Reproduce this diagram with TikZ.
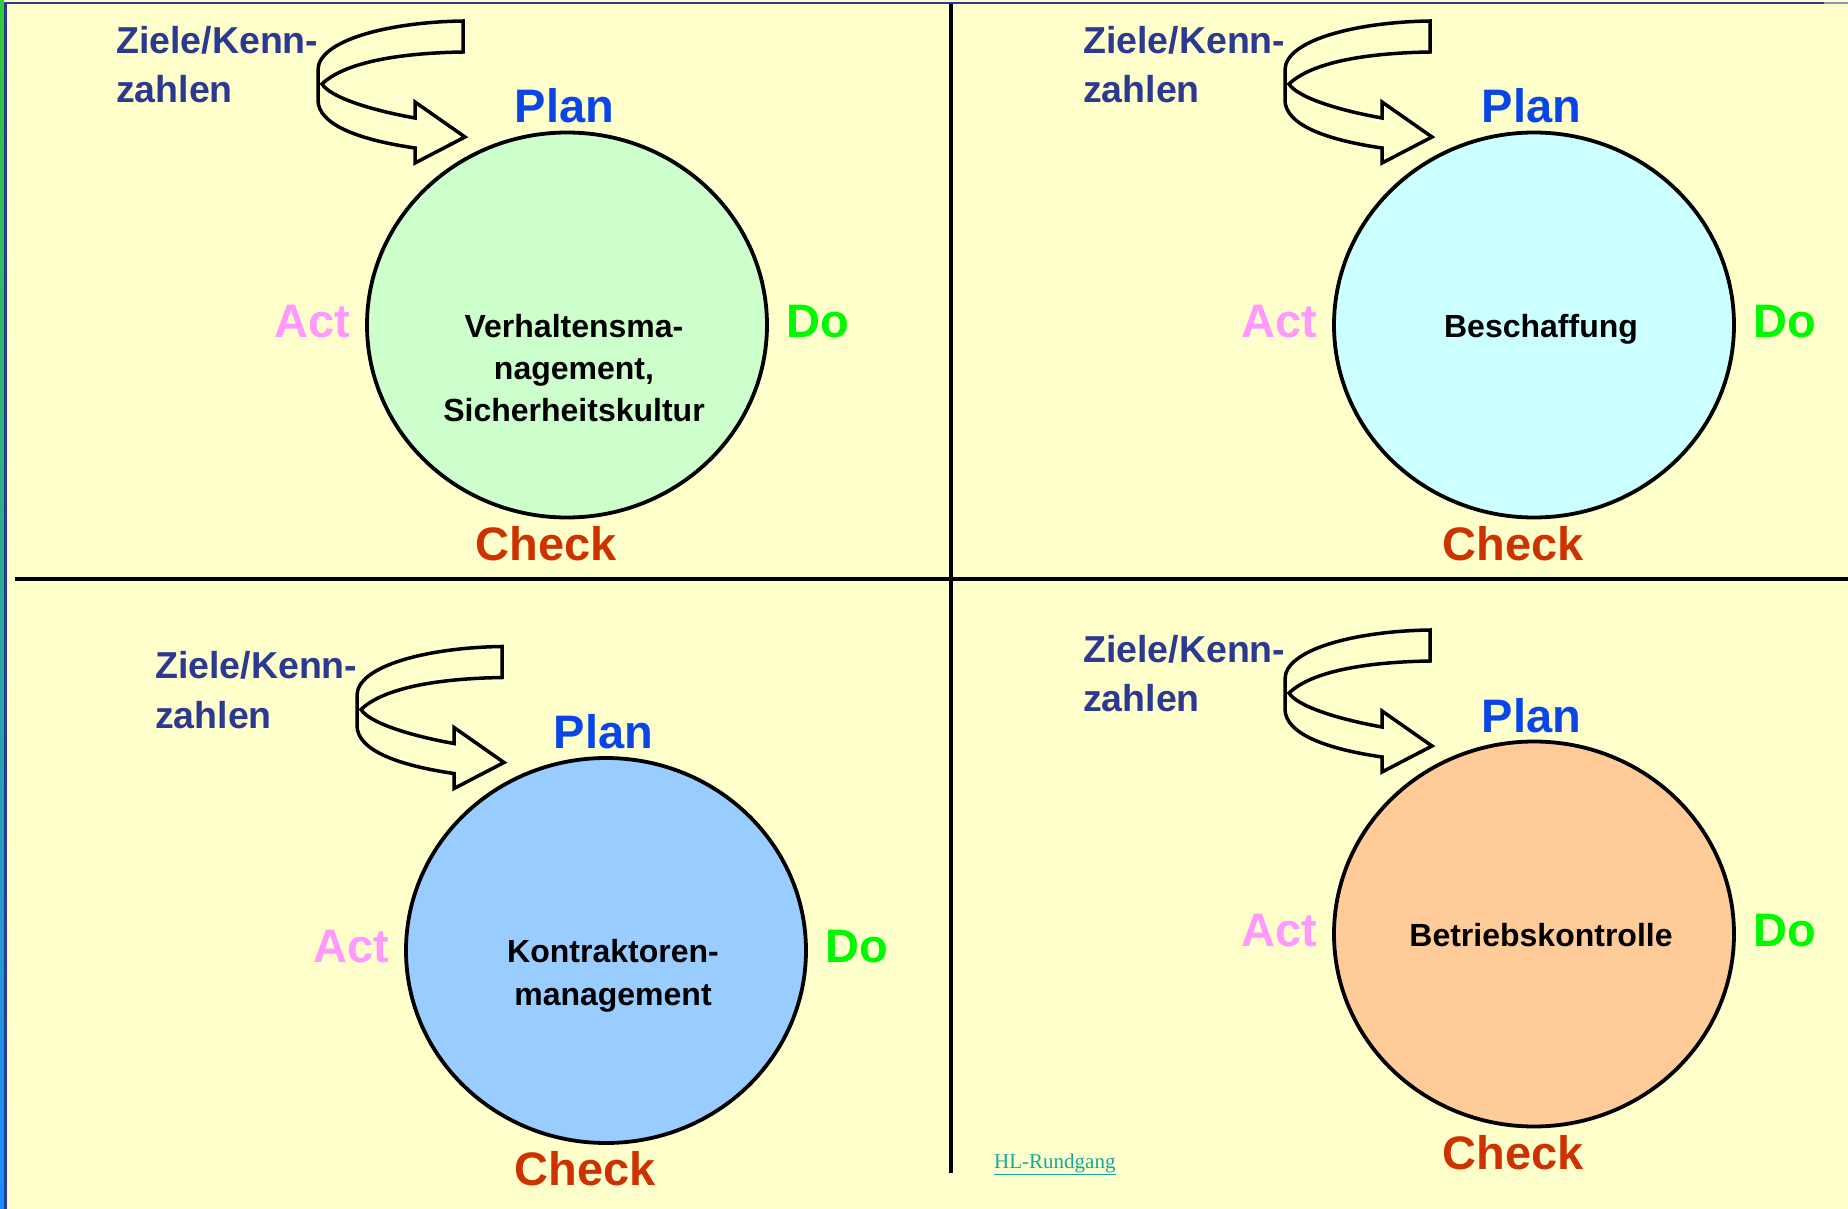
\documentclass[tikz,border=0pt]{standalone}
\usepackage{fontspec}
\setmainfont{Liberation Sans}
\newfontfamily\linkfont{Liberation Serif}
\usetikzlibrary{shapes.geometric}

\definecolor{bg}{HTML}{FFFFCC}
\definecolor{frameblue}{HTML}{2B3A8F}
\definecolor{goalblue}{HTML}{2B3A8F}
\definecolor{planblue}{HTML}{0A46E6}
\definecolor{actpink}{HTML}{FF99FF}
\definecolor{dogreen}{HTML}{00F800}
\definecolor{checkred}{HTML}{CC3300}
\definecolor{linkteal}{HTML}{14A89C}
\definecolor{fillgreen}{HTML}{CCFFCC}
\definecolor{fillcyan}{HTML}{CCFFFF}
\definecolor{fillblue}{HTML}{99CCFF}
\definecolor{fillorange}{HTML}{FFCC99}

\tikzset{
  cyclecircle/.style={ellipse, draw=black, line width=3.8pt, minimum width=400pt,
    minimum height=385pt, inner sep=0pt},
  phase/.style={font=\fontsize{47}{47}\selectfont\bfseries, anchor=base, inner sep=0pt},
  goal/.style={font=\fontsize{37.5}{49.4}\selectfont\bfseries, text=goalblue,
    align=left, text width=260pt, anchor=base west, inner sep=0pt},
  topic/.style={font=\fontsize{32}{42.5}\selectfont\bfseries, align=center,
    text width=380pt, anchor=base, inner sep=0pt},
  ribbon/.style={fill=bg, draw=black, line width=3.5pt, line join=miter},
  divider/.style={line width=4pt, draw=black}
}

% one PDCA panel: #1 name, #2/#3 centre, #4 fill colour, #5 topic text
\newcommand\pdcapanel[5]{%
  \begin{scope}[shift={(#2,#3)}]
    \node[cyclecircle, fill=#4] (#1) at (0,0) {};
    \node[topic] (#1-topic) at (7,12) {#5};
    \node[phase, text=planblue] (#1-plan) at (-2.5,-202) {Plan};
    \node[phase, text=actpink] (#1-act) at (-254.7,12) {Act};
    \node[phase, text=dogreen] (#1-do) at (251,12) {Do};
    \node[phase, text=checkred] (#1-check) at (-20.7,235) {Check};
    \node[goal] (#1-goal) at (-451,-271.7) {Ziele/Kenn-\\zahlen};
    % curled ribbon arrow from the goals towards Plan
    \filldraw[ribbon] (-104,-304)
      .. controls (-177,-303) and (-249,-285) .. (-249,-255)
      -- (-249,-225)
      .. controls (-249,-200) and (-207,-185) .. (-152,-177)
      -- (-152,-162) -- (-102,-188) -- (-152,-223) -- (-152,-207)
      .. controls (-197,-215) and (-237,-228) .. (-245,-241)
      .. controls (-222,-263) and (-167,-272) .. (-104,-273)
      -- cycle;
  \end{scope}}

\begin{document}
\begin{tikzpicture}[x=1pt, y=-1pt]
  \useasboundingbox (0,0) rectangle (1848,1209);
  \fill[bg] (0,0) rectangle (1848,1209);

  % slide frame
  \shade[top color=green!75!black!80, bottom color=blue!50!cyan!90] (0,0) rectangle (4,1209);
  \fill[frameblue] (4,2) rectangle (6.5,1209);
  \fill[frameblue] (4,2) rectangle (1824,4.5);
  \fill[frameblue!55] (1824,2.5) rectangle (1848,4.5);

  % quadrant dividers
  \draw[divider] (15,579) -- (1848,579);
  \draw[divider] (951,4) -- (951,1173);

  \pdcapanel{vm}{567}{325}{fillgreen}{Verhaltensma-\\nagement,\\Sicherheitskultur}
  \pdcapanel{bs}{1534}{325}{fillcyan}{Beschaffung}
  \pdcapanel{km}{606}{950.5}{fillblue}{Kontraktoren-\\management}
  \pdcapanel{bk}{1534}{934}{fillorange}{Betriebskontrolle}

  \node[anchor=base west, inner sep=0pt, text=linkteal,
        font=\linkfont\fontsize{21}{21}\selectfont] (link) at (994,1168)
        {\underline{HL-Rundgang}};
\end{tikzpicture}
\end{document}
